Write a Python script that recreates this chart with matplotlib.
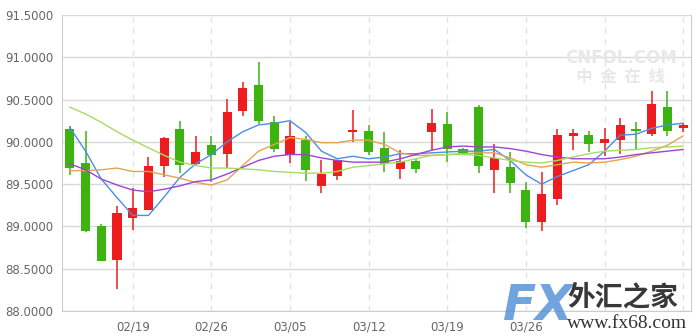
import numpy as np
import matplotlib.pyplot as plt

# category axis: a dashed line every 5 trading days, labels where visible
grid_idx = [4, 9, 14, 19, 24, 29, 34, 39]
tick_idx = [4, 9, 14, 19, 24, 29]
tick_labels = ['02/19', '02/26', '03/05', '03/12', '03/19', '03/26']

# daily candles
opens = [90.15, 89.75, 89.01, 88.60, 89.10, 89.20, 89.72, 90.15, 89.74, 89.96,
         89.86, 90.37, 90.67, 90.23, 89.85, 90.02, 89.48, 89.60, 90.12, 90.13,
         89.93, 89.68, 89.77, 90.12, 90.21, 89.92, 90.41, 89.67, 89.70, 89.43,
         89.05, 89.33, 90.07, 90.08, 89.99, 90.02, 90.15, 90.09, 90.41, 90.16]
closes = [89.69, 88.95, 88.59, 89.16, 89.22, 89.72, 90.04, 89.73, 89.88, 89.85,
          90.35, 90.64, 90.25, 89.92, 90.07, 89.67, 89.62, 89.78, 90.14, 89.88,
          89.74, 89.77, 89.68, 90.22, 89.92, 89.87, 89.71, 89.81, 89.51, 89.05,
          89.38, 90.08, 90.10, 89.97, 90.03, 90.20, 90.13, 90.45, 90.13, 90.20]
highs = [90.19, 90.13, 89.03, 89.24, 89.45, 89.82, 90.06, 90.25, 90.07, 90.07,
         90.51, 90.71, 90.95, 90.31, 90.24, 90.07, 89.78, 89.78, 90.38, 90.20,
         90.12, 89.90, 89.80, 90.39, 90.35, 89.93, 90.44, 89.97, 89.88, 89.53,
         89.64, 90.15, 90.15, 90.13, 90.16, 90.28, 90.23, 90.60, 90.60, 90.22]
lows = [89.61, 88.94, 88.59, 88.26, 88.96, 89.19, 89.59, 89.63, 89.72, 89.52,
        89.69, 90.31, 90.21, 89.88, 89.75, 89.54, 89.40, 89.55, 90.00, 89.85,
        89.64, 89.56, 89.63, 89.90, 89.76, 89.86, 89.63, 89.40, 89.40, 88.98,
        88.95, 89.25, 89.90, 89.88, 89.83, 89.86, 89.92, 90.07, 90.07, 90.12]

# moving averages
ma5 = [90.17, 89.89, 89.56, 89.34, 89.13, 89.13, 89.35, 89.58, 89.74, 89.85,
       90.00, 90.12, 90.20, 90.22, 90.25, 90.11, 89.89, 89.80, 89.83, 89.80,
       89.82, 89.86, 89.86, 89.87, 89.88, 89.89, 89.89, 89.91, 89.78, 89.61,
       89.50, 89.59, 89.66, 89.73, 89.89, 90.08, 90.09, 90.16, 90.20, 90.22]
ma10 = [89.66, 89.66, 89.67, 89.69, 89.65, 89.65, 89.61, 89.57, 89.52, 89.49,
        89.55, 89.72, 89.89, 89.97, 90.05, 90.03, 89.99, 89.99, 90.02, 90.02,
        89.97, 89.87, 89.84, 89.84, 89.85, 89.86, 89.87, 89.87, 89.81, 89.73,
        89.70, 89.73, 89.76, 89.75, 89.76, 89.79, 89.83, 89.89, 89.96, 90.07]
ma20 = [89.74, 89.67, 89.56, 89.49, 89.43, 89.41, 89.44, 89.48, 89.53, 89.55,
        89.62, 89.70, 89.78, 89.83, 89.85, 89.85, 89.81, 89.78, 89.76, 89.76,
        89.76, 89.80, 89.85, 89.90, 89.94, 89.95, 89.94, 89.94, 89.92, 89.89,
        89.85, 89.82, 89.80, 89.80, 89.80, 89.82, 89.85, 89.87, 89.89, 89.91]
ma30 = [90.41, 90.33, 90.23, 90.12, 90.02, 89.93, 89.84, 89.76, 89.72, 89.69,
        89.69, 89.68, 89.67, 89.65, 89.64, 89.63, 89.63, 89.65, 89.70, 89.72,
        89.74, 89.76, 89.80, 89.84, 89.85, 89.85, 89.84, 89.81, 89.78, 89.76,
        89.75, 89.78, 89.82, 89.86, 89.89, 89.90, 89.91, 89.93, 89.94, 89.95]

UP = '#ee1c1f'
DOWN = '#3cb30f'

fig = plt.figure(figsize=(6.94, 3.36), dpi=100)
ax = fig.add_axes([62 / 694, 25 / 336, 629 / 694, 296 / 336])

x = np.arange(len(opens))
o = np.array(opens)
c = np.array(closes)
colors = np.where(c >= o, UP, DOWN)

# wicks then bodies
ax.vlines(x, lows, highs, colors=colors, linewidth=1.1, zorder=2)
body_bottom = np.minimum(o, c)
body_h = np.maximum(np.abs(c - o), 0.012)
ax.bar(x, body_h, bottom=body_bottom, width=0.58, color=colors, linewidth=0, zorder=3)

ax.plot(x, ma5, color='#4a8fe0', lw=1.0, zorder=4)
ax.plot(x, ma10, color='#e2a452', lw=1.0, zorder=4)
ax.plot(x, ma20, color='#9b45d6', lw=1.0, zorder=4)
ax.plot(x, ma30, color='#a6dc62', lw=1.0, zorder=4)

ax.set_xlim(-0.5, 39.5)
ax.set_ylim(88.0, 91.5)
yt = np.arange(88.0, 91.51, 0.5)
ax.set_yticks(yt)
ax.set_yticklabels([f'{v:.4f}' for v in yt])
ax.set_xticks(tick_idx)
ax.set_xticklabels(tick_labels)

ax.grid(axis='y', color='#d9d9d9', lw=1.0, zorder=0)
for t in grid_idx:
    ax.axvline(t, color='#e3e3e3', lw=1.0, ls=(0, (4, 4)), zorder=0)

for side in ['left', 'bottom', 'right']:
    ax.spines[side].set_color('#cccccc')
ax.spines['top'].set_visible(False)
ax.tick_params(length=0, colors='#666666', labelsize=8.5, pad=6)
ax.tick_params(axis='x', pad=7)

# watermarks
cjk = ['Noto Sans CJK SC', 'DejaVu Sans']
fig.text(621, 336 - 58, 'CNFOL.COM', fontsize=12, fontweight='bold', color='#e8e8e8',
         ha='center', va='center', transform=None)
fig.text(621, 336 - 77, '中  金  在  线', fontsize=12, fontweight='bold', color='#e8e8e8',
         ha='center', va='center', family=cjk, transform=None)
fig.text(503, 336 - 330, 'FX', fontsize=35, fontweight='bold', style='italic',
         color='#4d8ed6', alpha=0.8, ha='left', va='bottom', transform=None)
fig.text(567, 336 - 297, '外汇之家', fontsize=20, fontweight='bold', color='#383838',
         ha='left', va='center', family=cjk, transform=None)
fig.text(567, 336 - 324, 'www.fx68.com', fontsize=14, color='#333333',
         ha='left', va='center', family='Liberation Serif', transform=None)

fig.savefig('out.png', dpi=100)
